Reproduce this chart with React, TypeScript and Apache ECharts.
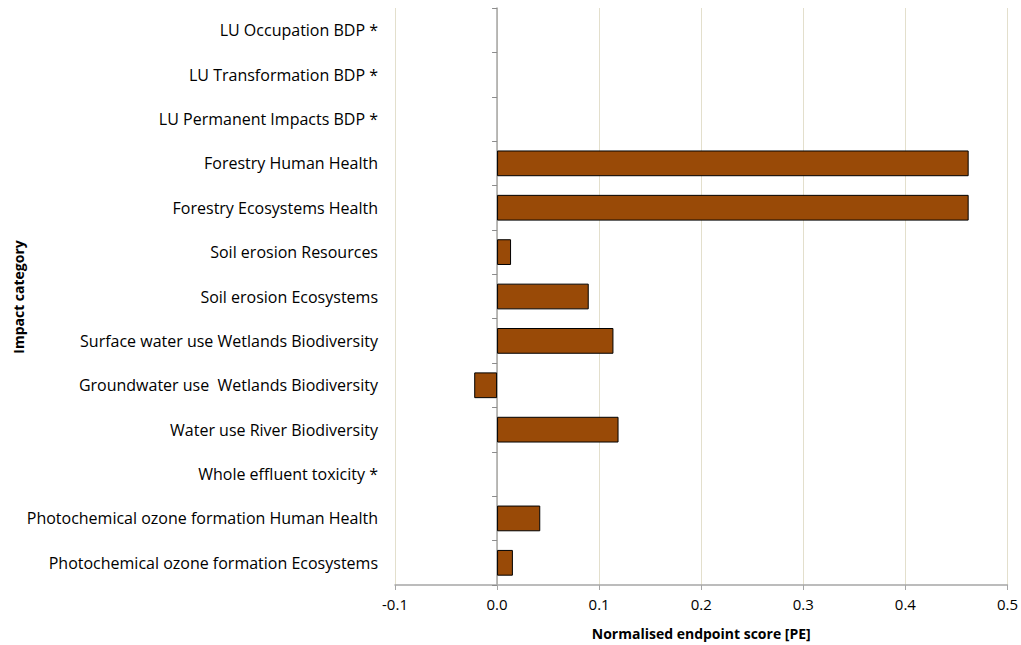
import React, { useEffect, useRef } from "react";
import * as echarts from "echarts";

const categories = [
  "LU Occupation BDP *",
  "LU Transformation BDP *",
  "LU Permanent Impacts BDP *",
  "Forestry Human Health",
  "Forestry Ecosystems Health",
  "Soil erosion Resources",
  "Soil erosion Ecosystems",
  "Surface water use Wetlands Biodiversity",
  "Groundwater use  Wetlands Biodiversity",
  "Water use River Biodiversity",
  "Whole effluent toxicity *",
  "Photochemical ozone formation Human Health",
  "Photochemical ozone formation Ecosystems",
];

const scores: (number | null)[] = [
  null,
  null,
  null,
  0.462,
  0.462,
  0.0137,
  0.0898,
  0.114,
  -0.0224,
  0.119,
  null,
  0.0423,
  0.0155,
];

const xMin = -0.1;
const xMax = 0.5;
const xStep = 0.1;

const xAxisTitle = "Normalised endpoint score [PE]";
const yAxisTitle = "Impact category";

export default function App() {
  const ref = useRef<HTMLDivElement>(null);
  useEffect(() => {
    if (!ref.current) return;
    const chart = echarts.init(ref.current, undefined, { renderer: "svg" });
    const font = "'Open Sans', Lato, sans-serif";
    chart.setOption({
      animation: false,
      backgroundColor: "#fff",
      grid: { left: 395, right: 12, top: 8, bottom: 59, containLabel: false },
      graphic: [
        {
          type: "text",
          x: 18,
          y: 297,
          rotation: Math.PI / 2,
          style: {
            text: yAxisTitle,
            fontFamily: font,
            fontWeight: "bold",
            fontSize: 14,
            fill: "#000",
            align: "center",
            verticalAlign: "middle",
          },
        },
      ],
      xAxis: {
        type: "value",
        min: xMin,
        max: xMax,
        interval: xStep,
        name: xAxisTitle,
        nameLocation: "middle",
        nameGap: 41,
        nameTextStyle: { fontFamily: font, fontWeight: "bold", fontSize: 14, color: "#000" },
        axisLine: { show: true, onZero: false, lineStyle: { color: "#a6a6a6", width: 1.5 } },
        axisTick: { show: true, length: 5, lineStyle: { color: "#a6a6a6" } },
        axisLabel: {
          fontFamily: font,
          fontSize: 15,
          color: "#000",
          margin: 11,
          formatter: (v: number) => v.toFixed(1),
        },
        splitLine: { show: true, lineStyle: { color: "#e3dfcc", width: 1 } },
      },
      yAxis: {
        type: "category",
        data: categories,
        inverse: true,
        axisLine: { show: true, onZero: true, lineStyle: { color: "#a6a6a6", width: 1.5 } },
        axisTick: { show: true, length: 5, lineStyle: { color: "#8c8c8c" } },
        axisLabel: { fontFamily: font, fontSize: 16, color: "#000", margin: 17 },
        splitLine: { show: false },
      },
      series: [
        {
          type: "bar",
          data: scores,
          barCategoryGap: "42%",
          itemStyle: { color: "#994a07", borderColor: "#000", borderWidth: 1 },
        },
      ],
    });
    return () => chart.dispose();
  }, []);
  return (
    <div
      ref={ref}
      style={{ position: "fixed", left: 0, top: 0, width: 1021, height: 645 }}
    />
  );
}
